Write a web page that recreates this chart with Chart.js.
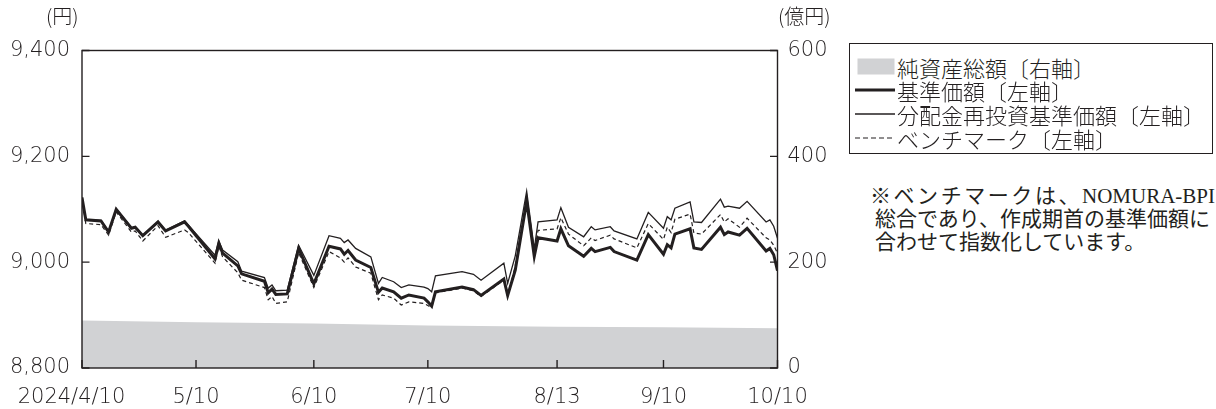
<!DOCTYPE html>
<html lang="ja">
<head>
<meta charset="utf-8">
<script src="https://cdn.jsdelivr.net/npm/chart.js@4"></script>
<style>
  html, body { margin: 0; padding: 0; background: #fff; }
  body { width: 1216px; height: 409px; position: relative; overflow: hidden;
         font-family: 'Noto Sans CJK JP', 'Noto Sans', sans-serif; color: #231f20; }
  #wrap { position: absolute; left: 0; top: 0; width: 845px; height: 409px; }
  .unit { position: absolute; top: 4px; font-size: 20px; line-height: 24px; white-space: nowrap; font-weight: 300; }
  #legend { position: absolute; left: 849px; top: 43px; width: 364px; height: 111px;
            border: 1.3px solid #231f20; box-sizing: border-box; }
  .row { position: absolute; left: 0; height: 24px; width: 360px; }
  .row svg { position: absolute; left: 5px; top: 0; }
  .row span { position: absolute; left: 47px; top: 0; font-size: 22px; line-height: 24px; white-space: nowrap; font-weight: 300; }
  #note { position: absolute; left: 870px; top: 185px; font-family: 'Liberation Serif', 'Noto Sans CJK JP', serif;
          font-size: 21px; line-height: 22.75px; color: #231f20; font-weight: normal; }
  #note div { white-space: nowrap; }
  #note .first { width: 345px; text-align: justify; text-align-last: justify; }
  #note .rest { padding-left: 5px; }
</style>
</head>
<body>
<div id="wrap"><canvas id="chart" width="845" height="409"></canvas></div>
<div class="unit" style="left:46px">(円)</div>
<div class="unit" style="left:778px">(億円)</div>
<div id="legend"></div>
<div id="note">
  <div class="first">※ベンチマークは、NOMURA-BPI</div>
  <div class="rest">総合であり、作成期首の基準価額に</div>
  <div class="rest">合わせて指数化しています。</div>
</div>
<script>
const YEAR = 2024;
const INK = '#231f20';
const AREA = '#d1d2d4';

// daily quotes (month/day, 2024)
const dates = ['4/10','4/11','4/15','4/17','4/19','4/23','4/24','4/26','4/30','5/2',
  '5/7','5/8','5/15','5/16','5/17','5/21','5/22','5/28','5/29','5/30',
  '5/31','6/3','6/6','6/10','6/14','6/17','6/18','6/19','6/21','6/25',
  '6/27','6/28','7/1','7/3','7/5','7/9','7/10','7/11','7/12','7/19',
  '7/22','7/24','7/30','7/31','8/2','8/5','8/7','8/8','8/13','8/14',
  '8/16','8/20','8/22','8/23','8/27','8/28','9/3','9/6','9/10','9/11',
  '9/12','9/13','9/17','9/18','9/20','9/25','9/26','9/27','9/30','10/2',
  '10/7','10/8','10/9','10/10'];

// 基準価額 (円)
const basePrice = [9122,9080,9078,9057,9100,9064,9066,9050,9076,9059,
  9076,9068,9006,9036,9017,8993,8978,8964,8942,8949,
  8939,8940,9026,8959,9030,9025,9015,9022,9004,8990,
  8943,8951,8944,8932,8938,8932,8925,8917,8944,8953,
  8948,8937,8968,8937,8985,9115,9011,9046,9040,9063,
  9031,9011,9026,9020,9028,9020,9004,9052,9015,9033,
  9027,9053,9063,9027,9024,9066,9052,9057,9051,9064,
  9021,9026,9014,8984];

// 分配金再投資基準価額 (円)
const reinvestedPrice = [9122,9081,9079,9058,9101,9065,9067,9051,9077,9060,
  9078,9070,9013,9040,9023,9001,8983,8971,8951,8957,
  8946,8947,9032,8975,9050,9045,9037,9042,9026,9010,
  8960,8971,8963,8952,8957,8953,8950,8944,8974,8982,
  8977,8966,8998,8960,9012,9134,9025,9076,9080,9103,
  9066,9048,9067,9061,9067,9059,9044,9094,9064,9086,
  9080,9102,9114,9076,9075,9119,9104,9106,9102,9115,
  9076,9080,9068,9045];

// ベンチマーク (円換算)
const benchmark = [9119,9073,9071,9051,9095,9057,9059,9040,9069,9047,
  9061,9056,8998,9030,9010,8980,8966,8952,8929,8935,
  8922,8925,9018,8952,9020,9008,9000,9008,8991,8979,
  8929,8938,8932,8919,8925,8922,8918,8914,8942,8951,
  8946,8935,8966,8935,8993,9124,9018,9060,9063,9084,
  9053,9031,9046,9041,9051,9044,9027,9073,9043,9066,
  9056,9081,9091,9055,9053,9090,9076,9082,9066,9083,
  9046,9042,9032,9017];

// 純資産総額 (億円)
const assetDates = ['4/10','5/10','6/10','7/10','8/13','9/10','10/10'];
const netAssets = [90, 86.5, 84, 80.5, 78, 77, 75];

const tickDates = ['4/10','5/10','6/10','7/10','8/13','9/10','10/10'];
const tickLabels = ['2024/4/10','5/10','6/10','7/10','8/13','9/10','10/10'];
const leftTicks = [8800, 9000, 9200, 9400];
const rightTicks = [0, 200, 400, 600];
const seriesNames = ['純資産総額〔右軸〕','基準価額〔左軸〕','分配金再投資基準価額〔左軸〕','ベンチマーク〔左軸〕'];

function dayIndex(md) {
  const [m, d] = md.split('/').map(Number);
  return (Date.UTC(YEAR, m - 1, d) - Date.UTC(YEAR, 3, 10)) / 86400000;
}
const toPoints = (ds, vs) => ds.map((d, i) => ({ x: dayIndex(d), y: vs[i] }));

// frame and inward tick marks
const frame = {
  id: 'frame',
  afterDatasetsDraw(chart) {
    const { ctx, chartArea: a, scales } = chart;
    ctx.save();
    ctx.strokeStyle = INK;
    ctx.lineWidth = 1.4;
    ctx.strokeRect(a.left, a.top, a.right - a.left, a.bottom - a.top);
    ctx.beginPath();
    scales.x.ticks.forEach(t => {
      const px = scales.x.getPixelForValue(t.value);
      ctx.moveTo(px, a.bottom); ctx.lineTo(px, a.bottom - 8);
    });
    scales.y.ticks.forEach(t => {
      const py = scales.y.getPixelForValue(t.value);
      ctx.moveTo(a.left, py); ctx.lineTo(a.left + 7.5, py);
    });
    scales.y2.ticks.forEach(t => {
      const py = scales.y2.getPixelForValue(t.value);
      ctx.moveTo(a.right, py); ctx.lineTo(a.right - 7.5, py);
    });
    ctx.stroke();
    ctx.restore();
  }
};

const tickFont = { family: "'DejaVu Sans', sans-serif", size: 21, weight: 200 };
const lineStyle = { pointRadius: 0, tension: 0, yAxisID: 'y', borderColor: INK, fill: false, borderJoinStyle: 'miter' };

new Chart(document.getElementById('chart'), {
  type: 'line',
  data: {
    datasets: [
      { ...lineStyle, label: seriesNames[1], data: toPoints(dates, basePrice), borderWidth: 3, order: 1 },
      { ...lineStyle, label: seriesNames[2], data: toPoints(dates, reinvestedPrice), borderWidth: 1.3, order: 0 },
      { ...lineStyle, label: seriesNames[3], data: toPoints(dates, benchmark), borderWidth: 1.2, borderDash: [4, 3], order: 0 },
      { label: seriesNames[0], data: toPoints(assetDates, netAssets), yAxisID: 'y2', fill: 'origin',
        backgroundColor: AREA, borderWidth: 0, borderColor: AREA, pointRadius: 0, tension: 0, order: 5 }
    ]
  },
  options: {
    responsive: false,
    animation: false,
    layout: { padding: { top: 50.5, left: 0, right: 0, bottom: 0 } },
    plugins: { legend: { display: false }, tooltip: { enabled: false } },
    scales: {
      x: {
        type: 'linear', min: 0, max: dayIndex('10/10'),
        grid: { display: false, drawTicks: false }, border: { display: false },
        afterBuildTicks: s => { s.ticks = tickDates.map(d => ({ value: dayIndex(d) })); },
        afterFit: s => { s.height = 41; },
        ticks: { font: tickFont, color: INK, padding: 17, maxRotation: 0, autoSkip: false,
                 callback: (v, i) => i === 0 ? tickLabels[0] + '\u2003' : tickLabels[i] }
      },
      y: {
        position: 'left', min: 8800, max: 9400,
        grid: { display: false, drawTicks: false }, border: { display: false },
        afterBuildTicks: s => { s.ticks = leftTicks.map(v => ({ value: v })); },
        afterFit: s => { s.width = 82; },
        ticks: { font: tickFont, color: INK, padding: 12, callback: v => v.toLocaleString('en-US') }
      },
      y2: {
        position: 'right', min: 0, max: 600,
        grid: { display: false, drawTicks: false }, border: { display: false },
        afterBuildTicks: s => { s.ticks = rightTicks.map(v => ({ value: v })); },
        afterFit: s => { s.width = 845 - 777.5; },
        ticks: { font: tickFont, color: INK, padding: 10 }
      }
    }
  },
  plugins: [frame]
});

// legend
const legend = document.getElementById('legend');
const swatches = [
  '<svg width="40" height="24"><rect x="2.5" y="3.5" width="37" height="16" fill="' + AREA + '"/></svg>',
  '<svg width="40" height="24"><line x1="0" y1="12" x2="40" y2="12" stroke="' + INK + '" stroke-width="3"/></svg>',
  '<svg width="40" height="24"><line x1="0" y1="12" x2="40" y2="12" stroke="' + INK + '" stroke-width="1.3"/></svg>',
  '<svg width="40" height="24"><line x1="0" y1="12" x2="40" y2="12" stroke="' + INK + '" stroke-width="1.2" stroke-dasharray="5 3"/></svg>'
];
seriesNames.forEach((name, i) => {
  const row = document.createElement('div');
  row.className = 'row';
  row.style.top = (10.5 + i * 23.9) + 'px';
  row.innerHTML = swatches[i] + '<span>' + name + '</span>';
  legend.appendChild(row);
});
</script>
</body>
</html>
